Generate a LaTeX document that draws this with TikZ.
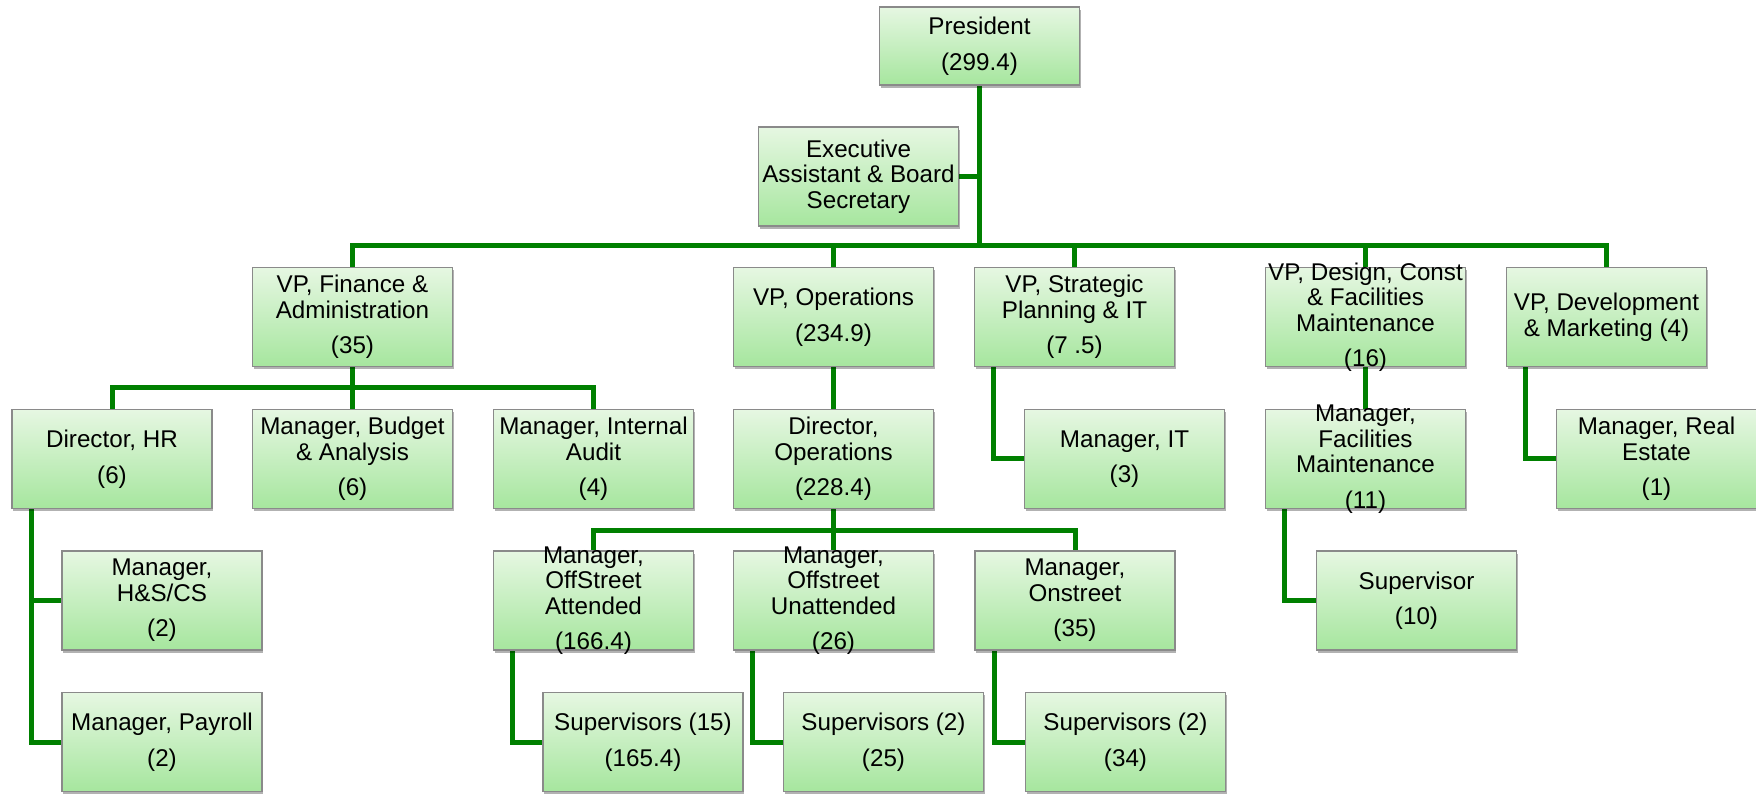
\documentclass[tikz,border=0pt]{standalone}
\usepackage{fontspec}
\setmainfont{Liberation Sans}
\usetikzlibrary{shadows,backgrounds}

\definecolor{linkgreen}{RGB}{0,128,0}
\definecolor{boxtop}{RGB}{230,247,226}
\definecolor{boxbot}{RGB}{166,230,158}
\definecolor{boxline}{RGB}{138,138,138}

\tikzset{
  unit/.style={draw=boxline, line width=0.7pt, top color=boxtop, bottom color=boxbot,
    minimum width=100pt, minimum height=49.5pt, inner sep=0pt,
    drop shadow={shadow xshift=0.6pt, shadow yshift=-1.4pt, opacity=0.3, fill=black}},
  unittxt/.style={inner sep=0pt, align=center, font=\fontsize{12.1}{12.75}\selectfont},
  link/.style={draw=linkgreen, line width=2.5pt},
}

\begin{document}
\begin{tikzpicture}[x=0.5pt,y=-0.5pt]
\useasboundingbox (0,0) rectangle (1756,796);

% top
\node[unit, minimum height=39pt, label={[unittxt]center:{President\\[5pt](299.4)}}] (pres) at (979.5,46) {};
\node[unit, label={[unittxt]center:{Executive\\Assistant \& Board\\Secretary}}] (exec) at (858.5,176.5) {};

% vice presidents
\node[unit, label={[unittxt]center:{VP, Finance \&\\Administration\\[5pt](35)}}] (vpfin) at (352.5,317) {};
\node[unit, label={[unittxt]center:{VP, Operations\\[5pt](234.9)}}] (vpops) at (833.5,317) {};
\node[unit, label={[unittxt]center:{VP, Strategic\\Planning \& IT\\[5pt](7 .5)}}] (strat) at (1074.5,317) {};
\node[unit, label={[unittxt]center:{VP, Design, Const\\\& Facilities\\Maintenance\\[5pt](16)}}] (vpdes) at (1365.5,317) {};
\node[unit, label={[unittxt]center:{VP, Development\\\& Marketing (4)}}] (vpdev) at (1606.5,317) {};

% second row
\node[unit, label={[unittxt]center:{Director, HR\\[5pt](6)}}] (hr) at (112,459) {};
\node[unit, label={[unittxt]center:{Manager, Budget\\\& Analysis\\[5pt](6)}}] (budget) at (352.5,459) {};
\node[unit, label={[unittxt]center:{Manager, Internal\\Audit\\[5pt](4)}}] (audit) at (593.5,459) {};
\node[unit, label={[unittxt]center:{Director,\\Operations\\[5pt](228.4)}}] (dirops) at (833.5,459) {};
\node[unit, label={[unittxt]center:{Manager, IT\\[5pt](3)}}] (mgrit) at (1124.5,459) {};
\node[unit, label={[unittxt]center:{Manager,\\Facilities\\Maintenance\\[5pt](11)}}] (mgrfac) at (1365.5,459) {};
\node[unit, label={[unittxt]center:{Manager, Real\\Estate\\[5pt](1)}}] (realest) at (1656.5,459) {};

% third row
\node[unit, label={[unittxt]center:{Manager,\\H\&S/CS\\[5pt](2)}}] (hs) at (162,600.5) {};
\node[unit, label={[unittxt]center:{Manager,\\OffStreet\\Attended\\[5pt](166.4)}}] (offatt) at (593.5,600.5) {};
\node[unit, label={[unittxt]center:{Manager,\\Offstreet\\Unattended\\[5pt](26)}}] (offun) at (833.5,600.5) {};
\node[unit, label={[unittxt]center:{Manager,\\Onstreet\\[5pt](35)}}] (onst) at (1075,600.5) {};
\node[unit, label={[unittxt]center:{Supervisor\\[5pt](10)}}] (supv) at (1416.5,600.5) {};

% bottom row
\node[unit, label={[unittxt]center:{Manager, Payroll\\[5pt](2)}}] (payroll) at (162,742) {};
\node[unit, label={[unittxt]center:{Supervisors (15)\\[5pt](165.4)}}] (supa) at (643,742) {};
\node[unit, label={[unittxt]center:{Supervisors (2)\\[5pt](25)}}] (supb) at (883.5,742) {};
\node[unit, label={[unittxt]center:{Supervisors (2)\\[5pt](34)}}] (supc) at (1125.5,742) {};

\begin{pgfonlayer}{background}
\coordinate (bus1) at (979.5,246);
\coordinate (bus2) at (352.5,388);
\coordinate (bus3) at (833.5,530);

\draw[link] (pres.south) -- (bus1);
\draw[link] (exec.east) -- (exec.east -| pres.south);
\draw[link] (vpfin.north) |- (bus1) -| (vpdev.north);
\draw[link] (vpops.north) -- (vpops.north |- bus1);
\draw[link] (strat.north) -- (strat.north |- bus1);
\draw[link] (vpdes.north) -- (vpdes.north |- bus1);

\draw[link] (hr.north) |- (bus2) -| (audit.north);
\draw[link] (vpfin.south) -- (budget.north);
\draw[link] ([xshift=10pt]hr.south west) |- (hs.west);
\draw[link] ([xshift=10pt]hr.south west) |- (payroll.west);

\draw[link] (vpops.south) -- (dirops.north);
\draw[link] (offatt.north) |- (bus3) -| (onst.north);
\draw[link] (dirops.south) -- (offun.north);
\draw[link] ([xshift=10pt]offatt.south west) |- (supa.west);
\draw[link] ([xshift=10pt]offun.south west) |- (supb.west);
\draw[link] ([xshift=10pt]onst.south west) |- (supc.west);

\draw[link] ([xshift=10pt]strat.south west) |- (mgrit.west);
\draw[link] (vpdes.south) -- (mgrfac.north);
\draw[link] ([xshift=10pt]mgrfac.south west) |- (supv.west);
\draw[link] ([xshift=10pt]vpdev.south west) |- (realest.west);
\end{pgfonlayer}
\end{tikzpicture}
\end{document}
